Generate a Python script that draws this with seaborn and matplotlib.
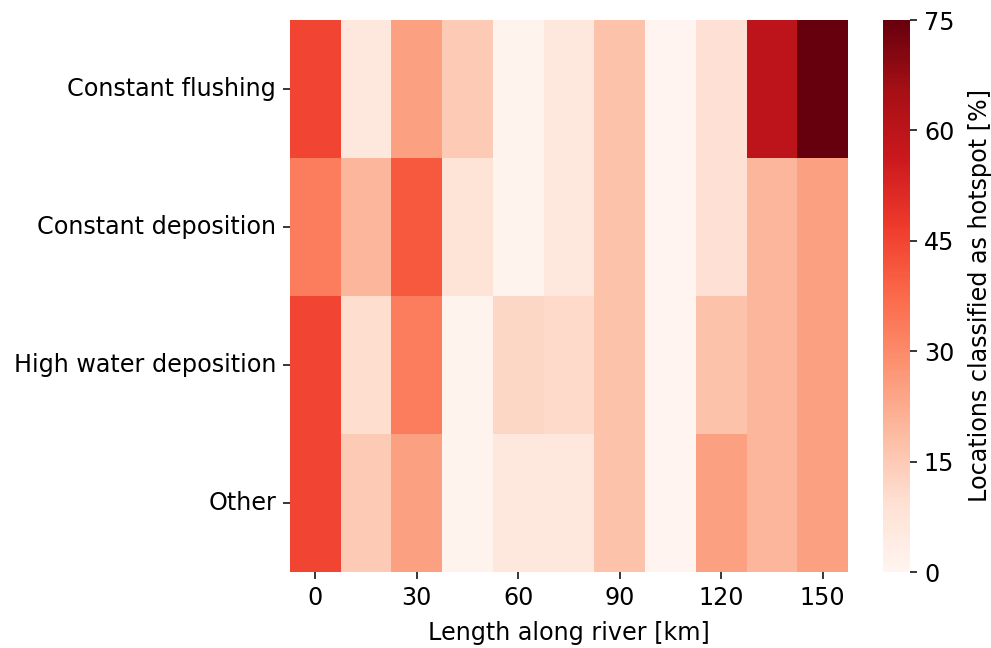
import numpy as np
import pandas as pd
import matplotlib
matplotlib.use("Agg")
import matplotlib.pyplot as plt
import seaborn as sns

categories = ["Constant flushing", "Constant deposition", "High water deposition", "Other"]
distances = [0, 15, 30, 45, 60, 75, 90, 105, 120, 135, 150]
constant_flushing = [45, 6, 25, 15, 1, 6, 17, 0.5, 9, 60, 75]
constant_deposition = [33, 20, 41, 8, 1, 6, 17, 0.5, 9, 20, 25]
high_water_deposition = [45, 10, 33, 1, 12, 11, 17, 0.5, 17, 20, 25]
other = [45, 15, 25, 1, 6, 6, 17, 0.5, 25, 20, 25]
cbar_ticks = [0, 15, 30, 45, 60, 75]

df = pd.DataFrame([constant_flushing, constant_deposition, high_water_deposition, other],
                  index=categories, columns=distances)

plt.rcParams['font.family'] = ['DejaVu Sans']
fs = 17.2
fig = plt.figure(figsize=(9.91, 6.48), dpi=100)
W, H = 991, 648
ax = fig.add_axes([290 / W, (H - 572) / H, 558 / W, 552 / H])
cax = fig.add_axes([883 / W, (H - 572) / H, 27 / W, 552 / H])

sns.heatmap(df, ax=ax, cbar_ax=cax, cmap="Reds", vmin=0, vmax=75,
            xticklabels=2, yticklabels=True,
            cbar_kws={"ticks": cbar_ticks, "label": "Locations classified as hotspot [%]"})

ax.set_xlabel("Length along river [km]", fontsize=fs, labelpad=8)
ax.set_ylabel("")
ax.tick_params(axis="both", labelsize=fs, length=5, width=1.1, pad=5)
plt.setp(ax.get_yticklabels(), rotation=0)
plt.setp(ax.get_xticklabels(), rotation=0)
cax.tick_params(labelsize=fs, length=5, width=1.1, pad=5)
cax.set_ylabel("Locations classified as hotspot [%]", fontsize=fs, labelpad=10)
for s in cax.spines.values():
    s.set_visible(False)

fig.savefig("out.png", dpi=100)
